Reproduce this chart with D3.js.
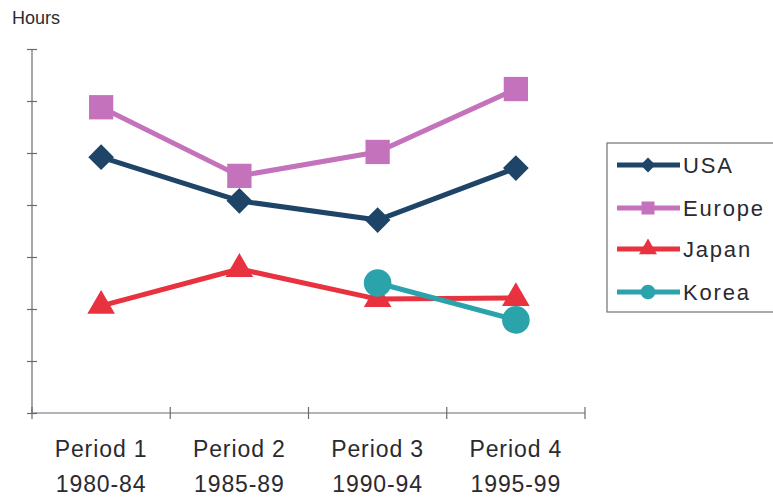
<!DOCTYPE html>
<html>
<head>
<meta charset="utf-8">
<script src="https://cdn.jsdelivr.net/npm/d3@7"></script>
<style>
  html, body { margin: 0; padding: 0; background: #fff; }
  svg { display: block; }
</style>
</head>
<body>
<svg id="chart" width="773" height="498"></svg>
<script>
// Average weekly hours by period and region
const periods = ["Period 1", "Period 2", "Period 3", "Period 4"];
const years = ["1980-84", "1985-89", "1990-94", "1995-99"];
const usa = [49.2, 40.8, 37.1, 47.1];
const europe = [58.8, 45.6, 50.2, 62.3];
const japan = [20.6, 27.7, 21.9, 22.1];
const korea = [null, null, 25.0, 17.9];
const yTicks = [0, 10, 20, 30, 40, 50, 60, 70];

// USA uses a square turned 45 degrees (a wide diamond)
const seriesList = [
  { name: "USA", values: usa, color: "#1e4468", symbol: d3.symbolSquare, rot: 45, size: 330, legSize: 110 },
  { name: "Europe", values: europe, color: "#c472bb", symbol: d3.symbolSquare, rot: 0, size: 590, legSize: 170 },
  { name: "Japan", values: japan, color: "#e8323f", symbol: d3.symbolTriangle, rot: 0, size: 330, legSize: 140 },
  { name: "Korea", values: korea, color: "#2ba3ab", symbol: d3.symbolCircle, rot: 0, size: 600, legSize: 170 }
];

const svg = d3.select("#chart");
const plotL = 32, plotR = 585, plotT = 49, plotB = 413;

const x = d3.scaleBand().domain(periods).range([plotL, plotR]);
const y = d3.scaleLinear().domain([0, 70]).range([plotB, plotT]);
const cx = p => x(p) + x.bandwidth() / 2;

// axes
const axisColor = "#6a6a72";
const yAxis = svg.append("g").attr("transform", `translate(${plotL},0)`)
  .call(d3.axisLeft(y).tickValues(yTicks).tickSize(5).tickFormat(""));
yAxis.selectAll(".tick line").attr("x1", -5).attr("x2", 5);
yAxis.select(".domain").attr("d", `M0,${plotT}V${plotB}`);

const xAxis = svg.append("g").attr("transform", `translate(0,${plotB})`)
  .call(d3.axisBottom(x).tickSize(0).tickFormat(""));
xAxis.select(".domain").attr("d", `M${plotL},0H${plotR}`);
// tick marks on band boundaries
const bounds = periods.map(p => x(p)).concat([x(periods[periods.length - 1]) + x.bandwidth()]);
xAxis.selectAll(".bound").data(bounds).enter().append("line").attr("class", "bound")
  .attr("x1", d => d).attr("x2", d => d).attr("y1", -6).attr("y2", 6);
svg.selectAll(".domain, .tick line, .bound").attr("stroke", axisColor).attr("stroke-width", 1.2);

// category labels
const lab = svg.append("g").attr("font-family", "Liberation Sans, Arial, sans-serif")
  .attr("font-size", 23).attr("fill", "#2a2a30").attr("text-anchor", "middle")
  .attr("letter-spacing", "0.9px");
periods.forEach((p, i) => {
  lab.append("text").attr("x", cx(p)).attr("y", 457).text(p);
  lab.append("text").attr("x", cx(p)).attr("y", 492).text(years[i]);
});

svg.append("text").attr("x", 12).attr("y", 24)
  .attr("font-family", "Liberation Sans, Arial, sans-serif")
  .attr("font-size", 18).attr("fill", "#2a2a30").text("Hours");

// series lines and markers
const line = d3.line()
  .defined(d => d.v != null)
  .x(d => cx(d.p))
  .y(d => y(d.v));

seriesList.forEach(s => {
  const pts = s.values.map((v, i) => ({ p: periods[i], v }));
  svg.append("path").datum(pts).attr("d", line)
    .attr("fill", "none").attr("stroke", s.color).attr("stroke-width", 5)
    .attr("stroke-linejoin", "round");
  svg.selectAll(null).data(pts.filter(d => d.v != null)).enter().append("path")
    .attr("d", d3.symbol().type(s.symbol).size(s.size))
    .attr("transform", d => `translate(${cx(d.p)},${y(d.v)}) rotate(${s.rot})`)
    .attr("fill", s.color);
});

// legend
const lg = svg.append("g");
lg.append("rect").attr("x", 607).attr("y", 143).attr("width", 180).attr("height", 169)
  .attr("fill", "#fff").attr("stroke", "#707078").attr("stroke-width", 1.2);
const rowY = [165, 208, 249, 292];
seriesList.forEach((s, i) => {
  const g = lg.append("g").attr("transform", `translate(0,${rowY[i]})`);
  g.append("line").attr("x1", 617).attr("x2", 680).attr("y1", 0).attr("y2", 0)
    .attr("stroke", s.color).attr("stroke-width", 5);
  g.append("path").attr("d", d3.symbol().type(s.symbol).size(s.legSize))
    .attr("transform", `translate(648,0) rotate(${s.rot})`).attr("fill", s.color);
  g.append("text").attr("x", 683).attr("y", 8)
    .attr("font-family", "Liberation Sans, Arial, sans-serif")
    .attr("font-size", 22).attr("letter-spacing", "1.8px").attr("fill", "#2a2a30")
    .text(s.name);
});
</script>
</body>
</html>
